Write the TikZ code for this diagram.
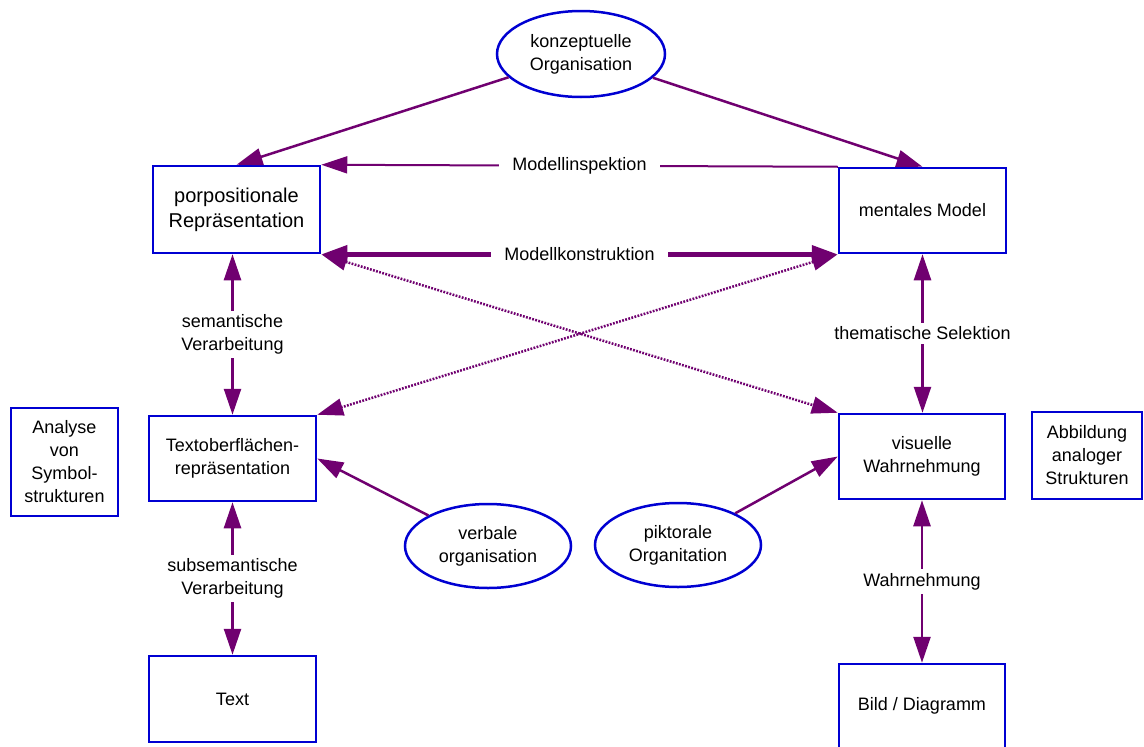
\documentclass[tikz,border=0pt]{standalone}
\usepackage{fontspec}
\setmainfont{Liberation Sans}
\usetikzlibrary{arrows.meta,shapes.geometric}
\definecolor{conn}{RGB}{112,0,112}
\definecolor{frame}{RGB}{0,0,210}

\begin{document}
\begin{tikzpicture}[x=1pt,y=-1pt,
  >={Triangle[length=26pt,width=17pt]},
  box/.style={draw=frame, line width=2.5pt, fill=white, align=center,
    inner sep=0pt, font=\fontsize{18}{23}\selectfont},
  oval/.style={ellipse, draw=frame, line width=2.5pt, fill=white, align=center,
    inner sep=0pt, font=\fontsize{18}{23}\selectfont},
  link/.style={draw=conn, line width=2.5pt},
  thinlink/.style={draw=conn, line width=2pt},
  boldlink/.style={draw=conn, line width=5pt},
  dotlink/.style={draw=conn, line width=2.5pt, dash pattern=on 1.8pt off 1.4pt},
  lbl/.style={fill=white, align=center, inner xsep=13pt, inner ysep=4pt,
    font=\fontsize{18}{23}\selectfont, text=black}
]
\fill[white] (0,0) rectangle (1144,747);
\useasboundingbox (0,0) rectangle (1144,747);

% boxes and ovals
\node[oval, minimum width=168pt, minimum height=86pt] (k) at (581,54) {konzeptuelle\\Organisation};
\node[box, minimum width=167pt, minimum height=87pt, font=\fontsize{20}{25}\selectfont] (p) at (236.5,209.5) {porpositionale\\Repräsentation};
\node[box, minimum width=167pt, minimum height=85pt] (m) at (922.5,210.5) {mentales Model};
\node[box, minimum width=167pt, minimum height=85pt] (t) at (232.5,458.5) {Textoberflächen-\\repräsentation};
\node[box, minimum width=107pt, minimum height=108pt] (a) at (64.5,462) {Analyse\\von\\Symbol-\\strukturen};
\node[box, minimum width=166pt, minimum height=85pt] (v) at (922,456.5) {visuelle\\Wahrnehmung};
\node[box, minimum width=110pt, minimum height=87pt] (b) at (1087,455.5) {Abbildung\\analoger\\Strukturen};
\node[oval, minimum width=166pt, minimum height=84pt] (vo) at (488,546) {verbale\\organisation};
\node[oval, minimum width=166pt, minimum height=84pt] (po) at (678,545) {piktorale\\Organitation};
\node[box, minimum width=167pt, minimum height=86pt] (tx) at (232.5,699) {Text};
\node[box, minimum width=166pt, minimum height=84pt] (bd) at (922,706) {Bild / Diagramm};

% connectors
\draw[link, ->] (k) -- (p.north);
\draw[link, ->] (k) -- (m.north);
\draw[thinlink, ->] (m.north west) -- node[lbl] {Modellinspektion} (p.north east);
\draw[boldlink, <->] (p.south east) -- node[lbl] {Modellkonstruktion} (m.south west);
\draw[dotlink, <->] (p.south east) -- (v.north west);
\draw[dotlink, <->] (m.south west) -- (t.north east);
\draw[link, <->] (t.north |- p.south) -- node[lbl] {semantische\\Verarbeitung} (t.north);
\draw[link, <->] (t.south) -- node[lbl] {subsemantische\\Verarbeitung} (tx.north);
\draw[link, <->] (m.south) -- node[lbl] {thematische Selektion} (m.south |- v.north);
\draw[link, <->] (v.south) -- node[lbl] {Wahrnehmung} (v.south |- bd.north);
\draw[link, ->] (vo) -- (t.east);
\draw[link, ->] (po) -- (v.west);
\end{tikzpicture}
\end{document}
